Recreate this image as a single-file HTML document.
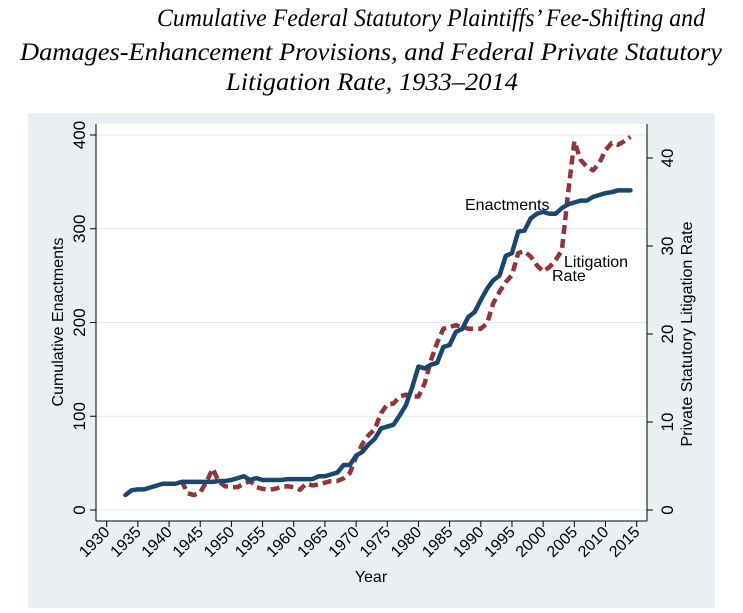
<!DOCTYPE html>
<html><head><meta charset="utf-8"><style>
body{margin:0;background:#fff;width:743px;height:613px;overflow:hidden}
svg{display:block}
text{font-family:"Liberation Sans",sans-serif;}
.t{font-family:"Liberation Serif",serif;font-style:italic;font-size:25px;fill:#000}
</style></head><body>
<svg id="chart" width="743" height="613" viewBox="0 0 743 613">
<text class="t" x="157" y="26" textLength="548" lengthAdjust="spacingAndGlyphs">Cumulative Federal Statutory Plaintiffs’ Fee-Shifting and</text>
<text class="t" x="20" y="60" textLength="702" lengthAdjust="spacingAndGlyphs">Damages-Enhancement Provisions, and Federal Private Statutory</text>
<text class="t" x="226" y="90" textLength="292" lengthAdjust="spacingAndGlyphs">Litigation Rate, 1933–2014</text>
<rect x="28" y="113" width="687" height="495" fill="#eaf0f2"/>
<rect x="96" y="124" width="551" height="397" fill="#fff"/>
<g id="grid"></g><g id="axes"></g><g id="series"></g>
<text x="465" y="210" font-size="16">Enactments</text>
<text x="564" y="267" font-size="16">Litigation</text>
<text x="552" y="281" font-size="16">Rate</text>
<text x="371" y="582" font-size="16" text-anchor="middle">Year</text>
<text transform="translate(63,322) rotate(-90)" font-size="16" text-anchor="middle">Cumulative Enactments</text>
<text transform="translate(692,334) rotate(-90)" font-size="16" text-anchor="middle">Private Statutory Litigation Rate</text>
</svg>
<script>
const enactYears=[1933,1934,1935,1936,1937,1938,1939,1940,1941,1942,1943,1944,1945,1946,1947,1948,1949,1950,1951,1952,1953,1954,1955,1956,1957,1958,1959,1960,1961,1962,1963,1964,1965,1966,1967,1968,1969,1970,1971,1972,1973,1974,1975,1976,1977,1978,1979,1980,1981,1982,1983,1984,1985,1986,1987,1988,1989,1990,1991,1992,1993,1994,1995,1996,1997,1998,1999,2000,2001,2002,2003,2004,2005,2006,2007,2008,2009,2010,2011,2012,2013,2014];
const enactValues=[16,21,22,22,24,26,28,28,28,30,30,30,30,30,30,31,31,32,34,36,32,34,32,32,32,32,33,33,33,33,33,36,36,38,40,48,48,58,62,70,76,87,89,91,101,112,131,153,151,155,157,174,176,190,193,206,211,224,236,245,250,271,274,297,298,311,316,318,316,316,322,326,328,330,330,334,336,338,339,341,341,341];
const litYears=[1942,1943,1944,1945,1946,1947,1948,1949,1950,1951,1952,1953,1954,1955,1956,1957,1958,1959,1960,1961,1962,1963,1964,1965,1966,1967,1968,1969,1970,1971,1972,1973,1974,1975,1976,1977,1978,1979,1980,1981,1982,1983,1984,1985,1986,1987,1988,1989,1990,1991,1992,1993,1994,1995,1996,1997,1998,1999,2000,2001,2002,2003,2004,2005,2006,2007,2008,2009,2010,2011,2012,2013,2014];
const litValues=[3.3,1.9,1.7,2.0,3.2,4.7,3.2,2.7,2.6,2.6,3.0,3.3,2.6,2.4,2.3,2.4,2.6,2.7,2.6,2.3,3.0,2.8,2.9,3.1,3.3,3.3,3.6,4.2,6.0,7.5,8.5,9.2,11,12,12.1,12.9,13.1,12.9,12.9,14.4,17,19,20.6,20.8,21,20.8,20.6,20.6,20.6,21.2,23.5,24.8,25.9,26.7,29.2,29.4,28.8,27.8,27.1,27.6,28.4,29.5,36,41.9,39.8,39.0,38.6,39.4,40.9,41.7,41.5,41.9,42.4];
const xTicks=[1930,1935,1940,1945,1950,1955,1960,1965,1970,1975,1980,1985,1990,1995,2000,2005,2010,2015];
const leftTicks=[0,100,200,300,400];
const rightTicks=[0,10,20,30,40];
const NS="http://www.w3.org/2000/svg";
const xS=y=>106.7+(y-1930)*6.235;
const yL=v=>510-v*0.9375;
const yR=v=>510-v*8.8;
function mk(tag,attrs,parent,txt){const e=document.createElementNS(NS,tag);for(const k in attrs)e.setAttribute(k,attrs[k]);if(txt!==undefined)e.textContent=txt;parent.appendChild(e);return e;}
const grid=document.getElementById('grid'),axes=document.getElementById('axes'),ser=document.getElementById('series');
leftTicks.forEach(t=>{
  const g=mk('line',{x1:96,x2:647,y1:yL(t),y2:yL(t),stroke:'#e4e8ea','stroke-width':1},grid);
  
  
  const tk=mk('line',{x1:90,x2:96,y1:yL(t),y2:yL(t),stroke:'#000','stroke-width':1},axes);
  
  
  const lb=mk('text',{transform:`translate(85,${yL(t)}) rotate(-90)`,'font-size':17,'text-anchor':'middle'},axes,String(t));
  
  
});
rightTicks.forEach(t=>{
  const tk=mk('line',{x1:647,x2:653,y1:yR(t),y2:yR(t),stroke:'#000','stroke-width':1},axes);
  
  
  const lb=mk('text',{transform:`translate(673,${yR(t)}) rotate(-90)`,'font-size':17,'text-anchor':'middle'},axes,String(t));
  
  
});
xTicks.forEach(t=>{
  const tk=mk('line',{x1:xS(t),x2:xS(t),y1:521,y2:527,stroke:'#000','stroke-width':1},axes);
  
  
  const lb=mk('text',{transform:`translate(${xS(t)+4},${533}) rotate(-45)`,'font-size':16,'text-anchor':'end'},axes,String(t));
  
  
});
[[96,124,96,521],[647,124,647,521],[96,521,647,521]].forEach(a=>{
  const l=mk('line',{x1:a[0],y1:a[1],x2:a[2],y2:a[3],stroke:'#000','stroke-width':1},axes);
  
  
});
const lp=mk('polyline',{points:litYears.map((y,i)=>xS(y)+','+yR(litValues[i])).join(' '),fill:'none',stroke:'#90353b','stroke-width':4.5,'stroke-dasharray':'9,5','stroke-linejoin':'round'},ser);


const ep=mk('polyline',{points:enactYears.map((y,i)=>xS(y)+','+yL(enactValues[i])).join(' '),fill:'none',stroke:'#1a476f','stroke-width':4.5,'stroke-linejoin':'round','stroke-linecap':'round'},ser);


</script>
</body></html>
